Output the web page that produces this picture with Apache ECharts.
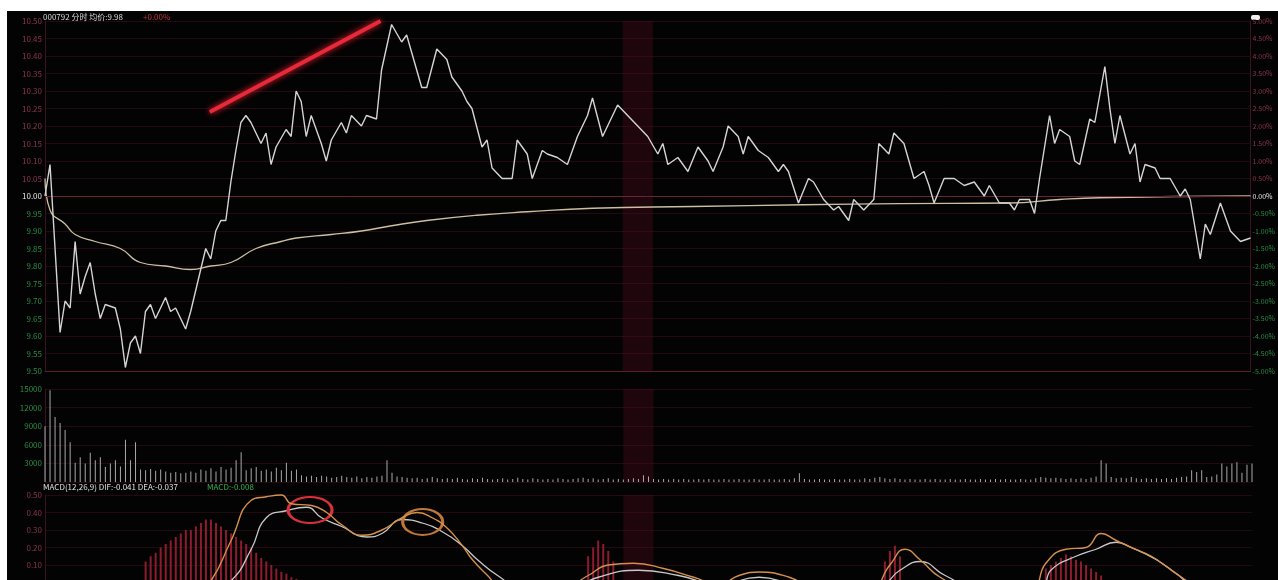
<!DOCTYPE html>
<html><head><meta charset="utf-8">
<script src="https://cdn.jsdelivr.net/npm/echarts@6/dist/echarts.min.js"></script>
<style>
html,body{margin:0;padding:0;background:#fff;width:1278px;height:580px;overflow:hidden}
#c{position:absolute;left:7px;top:11px;width:1271px;height:620px;background:#030303}
</style></head><body><div id="c"></div>
<script>
// ---- data (minute index 0..240, 9:30-11:30 / 13:00-15:00) ----
const preClose = 10.00;
const priceMin = 9.50, priceMax = 10.50, priceStep = 0.05;
const pricePoints = [[0,10.00],[1,10.09],[3,9.61],[4,9.70],[5,9.68],[6,9.87],[7,9.72],[8,9.77],[9,9.81],[10,9.72],[11,9.65],[12,9.69],[14,9.68],[15,9.62],[16,9.51],[17,9.58],[18,9.60],[19,9.55],[20,9.67],[21,9.69],[22,9.65],[24,9.71],[25,9.67],[26,9.68],[28,9.62],[29,9.67],[31,9.79],[32,9.85],[33,9.82],[34,9.90],[35,9.93],[36,9.93],[37,10.04],[38,10.13],[39,10.21],[40,10.23],[41,10.21],[43,10.15],[44,10.18],[45,10.09],[46,10.14],[48,10.19],[49,10.17],[50,10.30],[51,10.27],[52,10.17],[53,10.23],[55,10.15],[56,10.10],[57,10.16],[59,10.21],[60,10.18],[61,10.23],[63,10.20],[64,10.23],[66,10.22],[67,10.36],[69,10.49],[71,10.44],[72,10.46],[73,10.41],[75,10.31],[76,10.31],[78,10.42],[80,10.39],[81,10.34],[83,10.30],[84,10.27],[85,10.25],[87,10.14],[88,10.16],[89,10.08],[91,10.05],[93,10.05],[94,10.16],[96,10.12],[97,10.05],[99,10.13],[100,10.12],[102,10.11],[104,10.09],[106,10.17],[108,10.23],[109,10.28],[111,10.17],[114,10.26],[116,10.23],[118,10.20],[120,10.17],[122,10.12],[123,10.15],[124,10.09],[126,10.11],[128,10.07],[130,10.14],[132,10.10],[133,10.07],[135,10.14],[136,10.20],[138,10.17],[139,10.12],[140,10.17],[142,10.13],[144,10.11],[146,10.07],[147,10.09],[148,10.07],[150,9.98],[152,10.05],[153,10.04],[155,9.99],[157,9.96],[158,9.97],[160,9.93],[161,9.99],[163,9.96],[165,9.99],[166,10.15],[168,10.12],[169,10.18],[171,10.15],[173,10.05],[175,10.07],[176,10.03],[177,9.98],[179,10.05],[181,10.05],[183,10.03],[185,10.04],[187,10.00],[188,10.03],[190,9.98],[192,9.98],[193,9.96],[194,9.99],[196,9.99],[197,9.95],[198,10.05],[200,10.23],[201,10.15],[202,10.19],[204,10.17],[205,10.10],[206,10.09],[208,10.22],[209,10.21],[211,10.37],[212,10.25],[213,10.15],[214,10.23],[216,10.12],[217,10.15],[218,10.04],[219,10.09],[221,10.08],[222,10.05],[224,10.05],[226,10.00],[227,10.02],[228,9.99],[230,9.82],[231,9.92],[232,9.89],[234,9.98],[236,9.90],[238,9.87],[240,9.88]];
const avgPoints = [[0,10.05],[1,9.96],[4,9.92],[6,9.89],[10,9.87],[15,9.85],[19,9.81],[24,9.80],[29,9.79],[33,9.80],[37,9.81],[42,9.85],[47,9.87],[50,9.88],[57,9.89],[63,9.90],[69,9.915],[76,9.93],[86,9.945],[96,9.955],[109,9.965],[129,9.97],[151,9.975],[170,9.978],[192,9.98],[202,9.99],[210,9.995],[240,10.00]];
const volume = [
 9000,14800,10500,9500,8400,6400,3100,4000,3000,4700,
 3500,4000,2400,3000,3500,2500,6800,3500,6400,2000,
 1900,2100,1800,2000,1700,1500,1600,1400,1500,1700,
 1500,2000,1800,2200,1700,2400,2000,2300,3500,4800,
 1900,2200,2400,1800,2000,1700,2300,1900,3100,1800,
 2000,1100,900,1000,800,1000,900,700,800,1000,
 800,700,900,600,800,700,900,1000,3500,1500,
 900,800,700,600,700,500,600,800,600,500,
 600,500,700,500,400,600,500,700,500,400,
 500,600,400,500,700,500,400,600,500,400,
 500,400,600,500,400,500,600,700,500,600,
 400,500,600,400,500,400,500,600,500,1100,
 900,500,400,500,400,500,400,500,400,400,
 500,400,500,400,400,500,400,400,500,400,
 400,500,400,400,500,400,400,500,400,600,
 1400,500,400,400,500,400,400,500,400,400,
 500,400,400,600,500,700,800,600,500,600,
 500,400,500,400,400,500,400,500,400,400,
 500,400,400,500,400,400,500,400,400,500,
 400,500,400,400,500,400,400,600,800,700,
 600,700,600,500,600,500,600,500,700,900,
 3500,3000,800,600,700,600,800,600,500,600,
 500,600,500,600,500,700,800,900,1900,1600,
 1900,800,900,1200,3000,2500,3000,3200,1500,2800,
 3000];
const macdPoints = [[20,0.12],[21,0.15],[22,0.17],[23,0.20],[24,0.22],[25,0.24],[26,0.26],[27,0.28],[28,0.30],[29,0.30],[30,0.32],[31,0.34],[32,0.36],[33,0.36],[34,0.34],[35,0.32],[36,0.30],[37,0.28],[38,0.26],[39,0.24],[40,0.22],[41,0.20],[42,0.17],[43,0.14],[44,0.12],[45,0.10],[46,0.08],[47,0.06],[48,0.05],[49,0.03],[50,0.02],
 [108,0.15],[109,0.20],[110,0.24],[111,0.22],[112,0.18],[113,0.12],
 [167,0.12],[168,0.18],[169,0.21],[170,0.15],
 [199,0.08],[200,0.10],[201,0.12],[202,0.14],[203,0.16],[204,0.15],[205,0.13],[206,0.12],[207,0.10],[208,0.08],[209,0.06],[210,0.04]];
const difPoints = [[0,0],[10,-0.25],[20,-0.30],[28,-0.15],[33,0.01],[37,0.24],[41,0.47],[44,0.49],[47,0.50],[49,0.45],[53,0.44],[56,0.40],[59,0.33],[63,0.27],[67,0.30],[71,0.37],[74,0.40],[77,0.37],[80,0.31],[83,0.21],[85,0.13],[88,0.04],[91,-0.04],[100,-0.08],[108,0.04],[112,0.10],[117,0.11],[123,0.08],[129,0.03],[134,-0.01],[138,0.04],[142,0.06],[148,0.03],[154,-0.04],[164,-0.04],[168,0.10],[171,0.19],[174,0.13],[178,0.03],[184,-0.04],[196,-0.04],[199,0.11],[203,0.19],[207,0.20],[210,0.28],[213,0.24],[216,0.20],[220,0.15],[223,0.09],[226,0.03],[230,-0.04],[240,-0.10]];
const deaPoints = [[0,0],[10,-0.15],[20,-0.25],[30,-0.12],[37,0.01],[41,0.19],[44,0.37],[48,0.41],[52,0.43],[55,0.37],[59,0.32],[64,0.26],[67,0.28],[71,0.36],[75,0.34],[79,0.29],[83,0.21],[86,0.13],[90,0.04],[95,-0.04],[102,-0.06],[110,0.03],[118,0.07],[126,0.04],[134,-0.01],[142,0.03],[150,-0.01],[166,-0.01],[170,0.07],[174,0.12],[179,0.04],[186,-0.04],[198,-0.04],[200,0.07],[205,0.15],[209,0.19],[213,0.23],[216,0.20],[221,0.13],[225,0.05],[228,-0.01],[240,-0.10]];
const cursorPrice = 9.78;
const middayBand = [115, 121];
const priceTrendNote = [[32.8,10.24],[66.8,10.50]];
const macdTrendNote = [[47.3,0.574],[100.4,0.271]];
const macdCircles = [[52.7,0.414],[75.1,0.346]];
// -------------------------------------------------------------
const font = '"Noto Sans CJK SC","Noto Sans",sans-serif';
const UP = '#8c3454', DOWN = '#2c8c46', FLAT = '#e6e6e6';
function priceColor(v){ v = Number(v); if (v > preClose + 1e-6) return UP; if (v < preClose - 1e-6) return DOWN; return FLAT; }
const chart = echarts.init(document.getElementById('c'));
const grids = [
  {left:38,right:26,top:10,height:350},
  {left:38,right:26,top:378,height:93},
  {left:38,right:26,top:484,height:105}
];
const split = {show:true,lineStyle:{color:'#230a11',width:1}};
const band = {silent:true,itemStyle:{color:'rgba(80,10,28,0.38)'},data:[[{xAxis:middayBand[0]},{xAxis:middayBand[1]}]]};
chart.setOption({
  animation:false,
  backgroundColor:'#030303',
  grid:grids,
  xAxis:[0,1,2].map(i=>({type:'value',gridIndex:i,min:0,max:240,interval:30,
    axisLabel:{show:false},axisTick:{show:false},splitLine:{show:false},
    axisLine:{show:i===0,lineStyle:{color:'#5c1c2c'}}})),
  yAxis:[
    {type:'value',gridIndex:0,position:'left',min:priceMin,max:priceMax,interval:priceStep,
     axisLine:{show:true,lineStyle:{color:'#3c1220'}},axisTick:{show:false},
     axisLabel:{fontSize:8,margin:3,fontFamily:font,color:priceColor,formatter:v=>Number(v).toFixed(2)},
     splitLine:split},
    {type:'value',gridIndex:0,position:'right',min:priceMin,max:priceMax,interval:priceStep,
     axisLine:{show:true,lineStyle:{color:'#3c1220'}},axisTick:{show:false},splitLine:{show:false},
     axisLabel:{fontSize:7,margin:2,fontFamily:font,color:priceColor,
       formatter:v=>((Number(v)-preClose)/preClose*100).toFixed(2)+'%'}},
    {type:'value',gridIndex:1,min:0,max:15000,interval:3000,
     axisLine:{show:true,lineStyle:{color:'#3c1220'}},axisTick:{show:false},
     axisLabel:{fontSize:8,margin:3,fontFamily:font,color:DOWN,showMinLabel:false,formatter:v=>String(v)},splitLine:split},
    {type:'value',gridIndex:2,min:-0.1,max:0.5,interval:0.1,
     axisLine:{show:true,lineStyle:{color:'#3c1220'}},axisTick:{show:false},
     axisLabel:{fontSize:8,margin:3,fontFamily:font,color:v=>Number(v)<0.05&&Number(v)>-0.05?'#c07830':UP,
       formatter:v=>Number(v).toFixed(2)},splitLine:split}
  ],
  graphic:[
    {type:'text',left:36,top:2,style:{text:'000792 分时 均价:9.98',fill:'#d8d8d8',font:'8px '+font}},
    {type:'text',left:136,top:2,style:{text:'+0.00%',fill:'#c03040',font:'8px '+font}},
    {type:'text',left:36,top:472,style:{text:'MACD(12,26,9) DIF:-0.041 DEA:-0.037',fill:'#e0e0e0',font:'8px '+font}},
    {type:'text',left:200,top:472,style:{text:'MACD:-0.008',fill:'#30b050',font:'8px '+font}},
    {type:'rect',right:18,top:4,shape:{width:9,height:5,r:2},style:{fill:'#eeeeee'}}
  ],
  series:[
    {type:'line',name:'价格',xAxisIndex:0,yAxisIndex:0,data:pricePoints,symbol:'none',
     lineStyle:{color:'#d4d4d4',width:1.4},z:5,
     markArea:band,
     markLine:{silent:true,symbol:['none','none'],
       data:[
         {yAxis:preClose,lineStyle:{color:'#6a2432',width:1,type:'solid'},label:{show:false}},
         [{coord:priceTrendNote[0],lineStyle:{color:'#e62a3c',width:4,type:'solid',shadowBlur:6,shadowColor:'#ff2030'},label:{show:false}},{coord:priceTrendNote[1]}],
         {yAxis:cursorPrice,lineStyle:{opacity:0},label:{show:true,position:'start',distance:1,formatter:cursorPrice.toFixed(2),
           backgroundColor:'#5b21c9',color:'#e8e0ff',fontSize:8,padding:[2,6]}},
         {yAxis:cursorPrice,lineStyle:{opacity:0},label:{show:true,position:'end',distance:1,
           formatter:((cursorPrice-preClose)/preClose*100).toFixed(2)+'%',
           backgroundColor:'#5b21c9',color:'#e8e0ff',fontSize:7,padding:[2,2]}}
       ]}},
    {type:'line',name:'均价',xAxisIndex:0,yAxisIndex:0,data:avgPoints,symbol:'none',smooth:true,
     lineStyle:{color:'#cbbf9f',width:1.3},z:4},
    {type:'bar',name:'成交量',xAxisIndex:1,yAxisIndex:2,data:volume.map((v,i)=>[i,v]),barWidth:1,
     itemStyle:{color:'#a9a9a9'},markArea:band},
    {type:'bar',name:'MACD',xAxisIndex:2,yAxisIndex:3,data:macdPoints,barWidth:2,
     itemStyle:{color:'#8c1c2e'},markArea:band},
    {type:'line',name:'DIF',xAxisIndex:2,yAxisIndex:3,data:difPoints,symbol:'none',smooth:true,clip:false,
     lineStyle:{color:'#d4904c',width:1.4},z:5,
     markLine:{silent:true,symbol:['none','none'],
       data:[[{coord:macdTrendNote[0],lineStyle:{color:'#e62a3c',width:4,type:'solid',shadowBlur:6,shadowColor:'#ff2030'},label:{show:false}},{coord:macdTrendNote[1]}]]},
     markPoint:{silent:true,symbol:'circle',label:{show:false},
       data:[
         {coord:macdCircles[0],symbolSize:[44,26],itemStyle:{color:'rgba(0,0,0,0)',borderColor:'#d8303c',borderWidth:2.5}},
         {coord:macdCircles[1],symbolSize:[40,26],itemStyle:{color:'rgba(0,0,0,0)',borderColor:'#c07838',borderWidth:2.5}}
       ]}},
    {type:'line',name:'DEA',xAxisIndex:2,yAxisIndex:3,data:deaPoints,symbol:'none',smooth:true,clip:false,
     lineStyle:{color:'#c8c8c8',width:1.3},z:4}
  ]
});
</script></body></html>
